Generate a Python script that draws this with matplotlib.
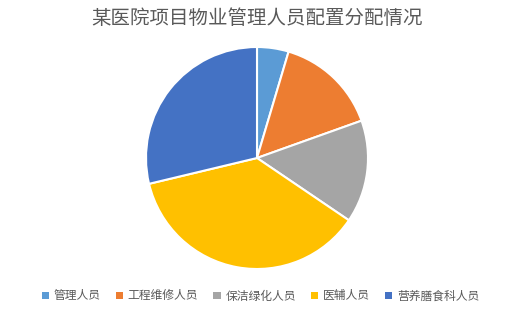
import matplotlib.pyplot as plt
from matplotlib.patches import Patch

plt.rcParams['font.family'] = ['Noto Sans CJK SC', 'DejaVu Sans']

title = '某医院项目物业管理人员配置分配情况'
labels = ['管理人员', '工程维修人员', '保洁绿化人员', '医辅人员', '营养膳食科人员']
values = [4, 13, 13, 32, 25]
colors = ['#5B9BD5', '#ED7D31', '#A5A5A5', '#FFC000', '#4472C4']

fig = plt.figure(figsize=(5.21, 3.11), dpi=100)
ax = fig.add_axes([146 / 521, 42 / 311, 222 / 521, 222 / 311])
ax.pie(values, colors=colors, startangle=90, counterclock=False, radius=1,
       wedgeprops=dict(edgecolor='white', linewidth=1.5))
ax.set_xlim(-1, 1)
ax.set_ylim(-1, 1)
ax.set_aspect('equal')

fig.text(257 / 521, 1 - 19 / 311, title, ha='center', va='center', fontsize=14, color='#595959')

handles = [Patch(facecolor=c, edgecolor='none') for c in colors]
fig.legend(handles, labels, loc='center', bbox_to_anchor=(0.5, 1 - 296 / 311), ncol=5,
           frameon=False, fontsize=8.5, labelcolor='#595959',
           handlelength=0.6, handleheight=0.6, handletextpad=0.4, columnspacing=1.3)

fig.savefig('out.png', dpi=100)
